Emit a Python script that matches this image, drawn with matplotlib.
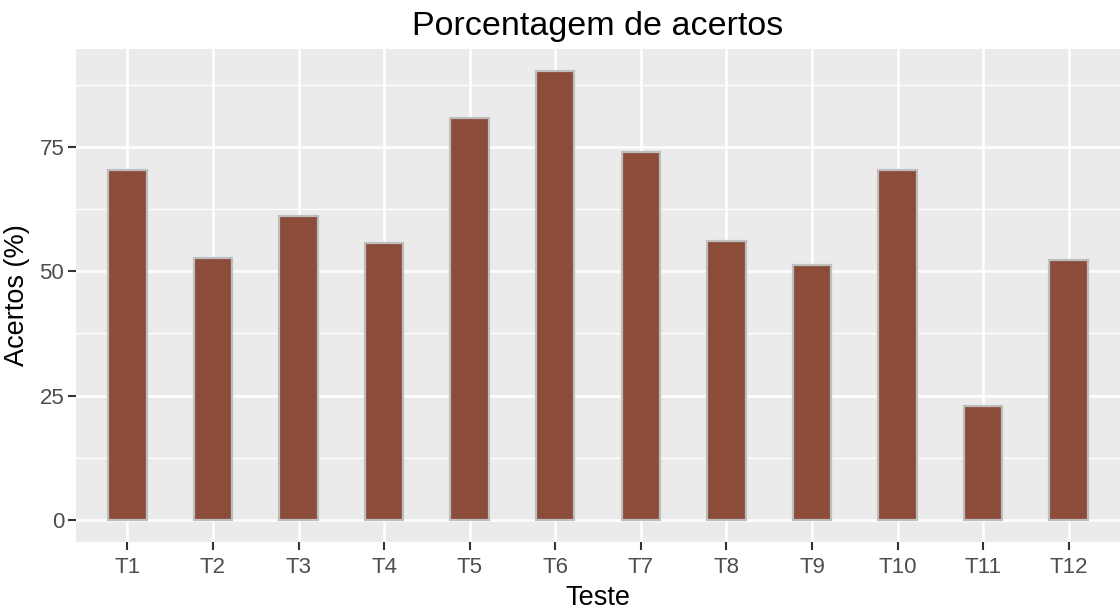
import matplotlib.pyplot as plt
from matplotlib.ticker import MultipleLocator
import numpy as np

# dados
testes = ["T1", "T2", "T3", "T4", "T5", "T6", "T7", "T8", "T9", "T10", "T11", "T12"]
acertos = [70.4, 52.8, 61.1, 55.8, 81.0, 90.3, 74.0, 56.2, 51.2, 70.4, 22.8, 52.4]

plt.rcParams['font.family'] = ['Liberation Sans', 'DejaVu Sans']

fig = plt.figure(figsize=(11.2, 6.09), dpi=100)
ax = fig.add_axes([0.0679, 0.110, 0.9321, 0.8095])

x = np.arange(1, len(testes) + 1)
ax.bar(x, acertos, width=0.45, color="#8B4C39", edgecolor="#BEBEBE", linewidth=1.6, zorder=3)

# estilo ggplot
ax.set_facecolor("#EBEBEB")
for s in ax.spines.values():
    s.set_visible(False)
ax.set_xlim(0.4, len(testes) + 0.6)
ymax = max(acertos)
ax.set_ylim(-0.05 * ymax, ymax * 1.05)
ax.set_xticks(x)
ax.set_xticklabels(testes)
ax.yaxis.set_major_locator(MultipleLocator(25))
ax.yaxis.set_minor_locator(MultipleLocator(12.5))
ax.grid(which="major", color="white", linewidth=1.8, zorder=0)
ax.grid(which="minor", axis="y", color="white", linewidth=0.9, zorder=0)
ax.set_axisbelow(True)
ax.tick_params(which="major", length=5.5, width=1.5, color="#333333",
               labelcolor="#4D4D4D", labelsize=16, pad=3)
ax.tick_params(axis="x", which="major", pad=5)
ax.tick_params(which="minor", length=0)

ax.set_title("Porcentagem de acertos", fontsize=24.5, pad=10)
ax.set_xlabel("Teste", fontsize=19.5, labelpad=5)
ax.set_ylabel("Acertos (%)", fontsize=19.5, labelpad=7)

fig.savefig("out.png", dpi=100)
